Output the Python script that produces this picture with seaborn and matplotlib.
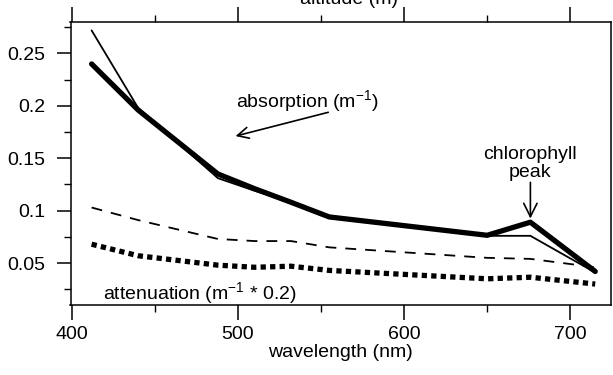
import matplotlib
matplotlib.use("Agg")
import matplotlib.pyplot as plt
import seaborn as sns
import pandas as pd
from matplotlib.ticker import MultipleLocator

# ---- data ----
wavelength = [412, 440, 488, 510, 532, 555, 650, 676, 715]
absorption_a = [0.240, 0.196, 0.135, 0.121, 0.108, 0.094, 0.0765, 0.089, 0.042]
absorption_b = [0.272, 0.198, 0.131, 0.119, 0.108, 0.093, 0.076, 0.076, 0.041]
attenuation_a = [0.103, 0.091, 0.073, 0.071, 0.071, 0.065, 0.055, 0.054, 0.046]
attenuation_b = [0.068, 0.057, 0.048, 0.046, 0.047, 0.043, 0.035, 0.0365, 0.030]

x_ticks = [400, 500, 600, 700]
y_ticks = [0.05, 0.1, 0.15, 0.2, 0.25]
y_ticklabels = ["0.05", "0.1", "0.15", "0.2", "0.25"]

sns.set_theme(style="ticks")
plt.rcParams["font.family"] = ["Liberation Sans", "DejaVu Sans"]
plt.rcParams["mathtext.fontset"] = "custom"
plt.rcParams["mathtext.rm"] = "Liberation Sans"
plt.rcParams["mathtext.it"] = "Liberation Sans"
plt.rcParams["text.color"] = "black"
plt.rcParams["axes.labelcolor"] = "black"
plt.rcParams["xtick.color"] = "black"
plt.rcParams["ytick.color"] = "black"

FS = 14

fig = plt.figure(figsize=(6.13, 3.75), dpi=100)
ax = fig.add_axes([70.5 / 613, 1 - 305 / 375, (611 - 70.5) / 613, (305 - 22) / 375])

df = pd.DataFrame({"wl": wavelength, "a1": absorption_a, "a2": absorption_b,
                   "c1": attenuation_a, "c2": attenuation_b})

sns.lineplot(data=df, x="wl", y="a1", ax=ax, color="black", lw=3.8,
             solid_joinstyle="round", solid_capstyle="round")
sns.lineplot(data=df, x="wl", y="a2", ax=ax, color="black", lw=1.3)
sns.lineplot(data=df, x="wl", y="c1", ax=ax, color="black", lw=1.3)
ax.lines[-1].set_dashes((6, 5))
sns.lineplot(data=df, x="wl", y="c2", ax=ax, color="black", lw=3.8)
ax.lines[-1].set_dashes((1.0, 0.8))
ax.lines[-1].set_dash_capstyle("butt")

ax.set_xlim(399.3, 724.5)
ax.set_ylim(0.01, 0.28)
ax.set_xticks(x_ticks)
ax.xaxis.set_minor_locator(MultipleLocator(50))
ax.set_yticks(y_ticks)
ax.set_yticklabels(y_ticklabels)
ax.yaxis.set_minor_locator(MultipleLocator(0.025))

for s in ax.spines.values():
    s.set_linewidth(1.1)
    s.set_color("black")

ax.tick_params(axis="x", which="major", length=11, width=1.1, top=True,
               labelsize=FS, pad=4)
ax.tick_params(axis="x", which="minor", length=5, width=1.0, top=True)
ax.tick_params(axis="y", which="major", length=10, width=1.1, labelsize=FS,
               pad=8)
ax.tick_params(axis="y", which="minor", length=5, width=1.0)
ax.tick_params(right=False, which="both")

ax.set_xlabel("wavelength (nm)", fontsize=FS, labelpad=1)
ax.set_ylabel("")

# annotations
ax.text(542, 0.2045, "absorption (m$^{-1}$)", fontsize=FS, ha="center", va="center")
ax.annotate("", xy=(497, 0.1705), xytext=(556, 0.1945),
            arrowprops=dict(arrowstyle="->", lw=1.2, color="black",
                            mutation_scale=20))
ax.text(676, 0.145, "chlorophyll\npeak", fontsize=FS, ha="center", va="center",
        linespacing=1.15)
ax.annotate("", xy=(676, 0.0925), xytext=(676, 0.127),
            arrowprops=dict(arrowstyle="->", lw=1.2, color="black",
                            mutation_scale=24, shrinkA=0, shrinkB=0))
ax.text(419, 0.0215, "attenuation (m$^{-1}$ * 0.2)", fontsize=FS, ha="left",
        va="center")

fig.text(398 / 613, 1 - 4 / 375, "altitude (m)", fontsize=FS, ha="right",
         va="baseline")

fig.savefig("out.png", dpi=100)
